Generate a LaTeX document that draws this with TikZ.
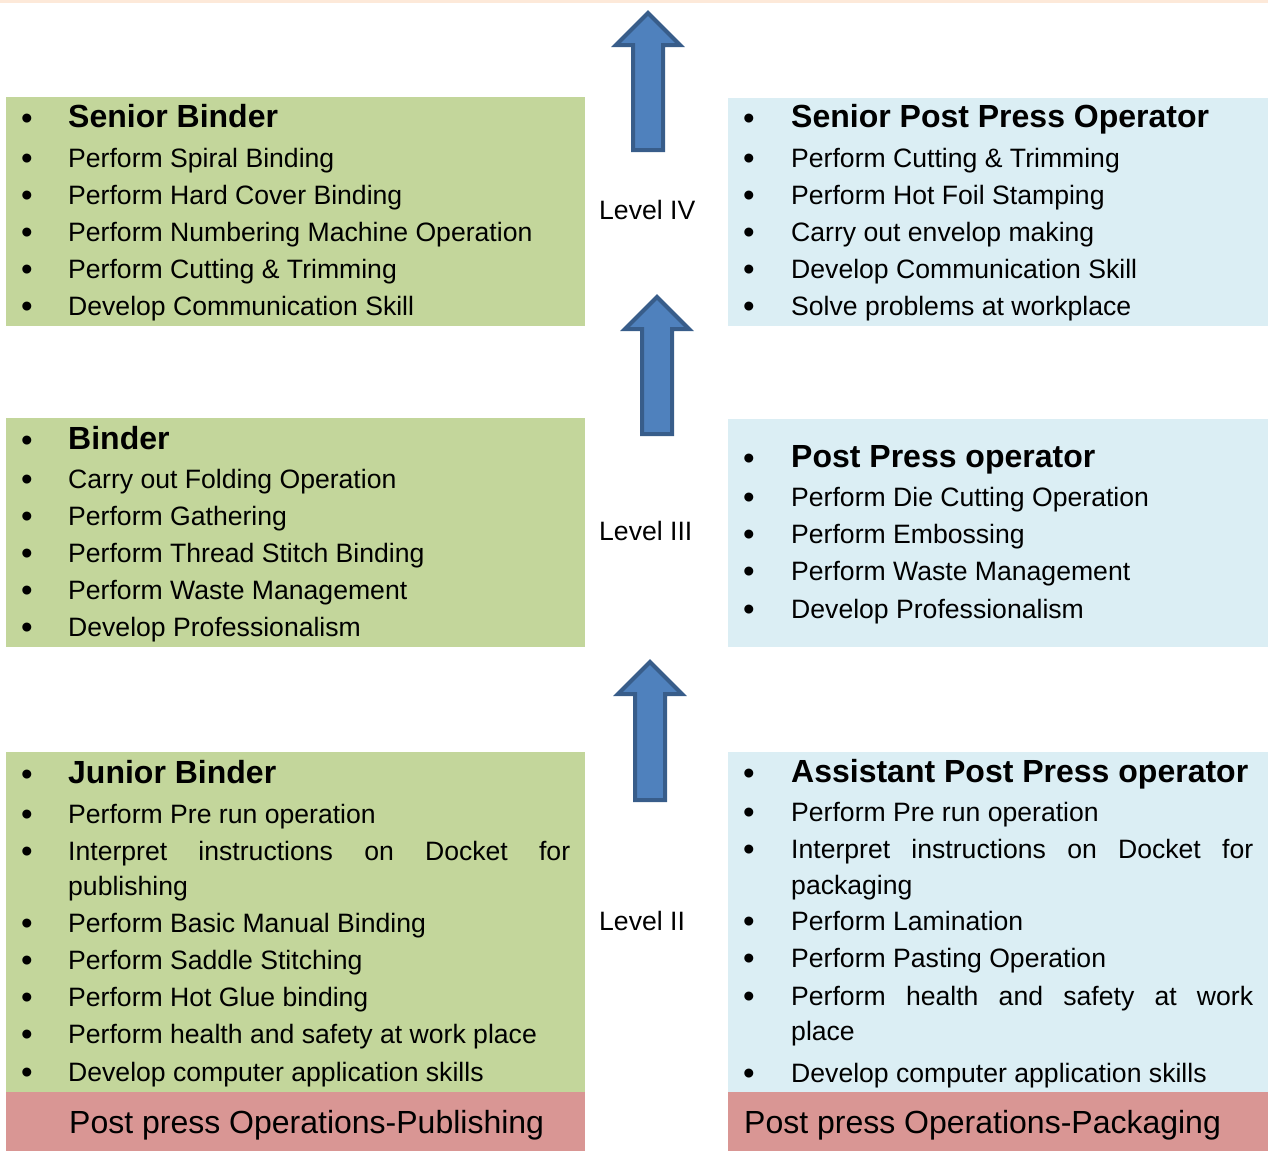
\documentclass[tikz,border=0pt]{standalone}
\usepackage{fontspec}
\setmainfont{Liberation Sans}
\usepackage{tikz}

\definecolor{pubgreen}{HTML}{C3D69B}
\definecolor{packblue}{HTML}{DBEEF4}
\definecolor{basered}{HTML}{D99694}
\definecolor{topline}{HTML}{FDE9D9}
\definecolor{arrowfill}{HTML}{4F81BD}
\definecolor{arrowline}{HTML}{385D8A}

\tikzset{
  panel/.style={anchor=north west, inner sep=0pt, draw=none},
  txt/.style={anchor=base west, inner sep=0pt, font=\fontsize{26.6}{32}\selectfont},
  ttl/.style={anchor=base west, inner sep=0pt, font=\bfseries\fontsize{32}{38}\selectfont},
  dot/.style={anchor=base, inner sep=0pt, yshift=-2.5pt, font=\fontsize{33}{38}\selectfont},
  foot/.style={anchor=base west, inner sep=0pt, font=\fontsize{32}{38}\selectfont},
  lvl/.style={anchor=base west, inner sep=0pt, font=\fontsize{26.6}{32}\selectfont},
  uparrow/.style={fill=arrowfill, draw=arrowline, line width=4pt, line join=miter}
}

\begin{document}
\begin{tikzpicture}[x=1pt, y=-1pt]
        \useasboundingbox (0,0) rectangle (1268,1151);
        \fill[topline] (0,0) rectangle (1268,3);

        % Define the panels
        \node[panel, fill=pubgreen, minimum width=579pt, minimum height=229pt] (gA) at (6,97) {};
        \node[panel, fill=pubgreen, minimum width=579pt, minimum height=229pt] (gB) at (6,418) {};
        \node[panel, fill=pubgreen, minimum width=579pt, minimum height=340pt] (gC) at (6,752) {};
        \node[panel, fill=basered, minimum width=579pt, minimum height=59pt] (gD) at (6,1092) {};
        \node[panel, fill=packblue, minimum width=540pt, minimum height=228pt] (bA) at (728,98) {};
        \node[panel, fill=packblue, minimum width=540pt, minimum height=228pt] (bB) at (728,419) {};
        \node[panel, fill=packblue, minimum width=540pt, minimum height=340pt] (bC) at (728,752) {};
        \node[panel, fill=basered, minimum width=540pt, minimum height=59pt] (bD) at (728,1092) {};

        % Define the arrows
        \foreach \cx/\tip/\bot in {648/13/150, 657/297/434, 650/662/800}
          \draw[uparrow] (\cx-15,\bot) -- (\cx-15,\tip+32) -- (\cx-32,\tip+32) -- (\cx,\tip)
            -- (\cx+32,\tip+32) -- (\cx+15,\tip+32) -- (\cx+15,\bot) -- cycle;

        % Define the levels
        \node[lvl] (lv4) at (599,219) {Level IV};
        \node[lvl] (lv3) at (599,540) {Level III};
        \node[lvl] (lv2) at (599,930) {Level II};

        % Publishing side
        \node[dot] (gA-d0) at (27,127) {•};
        \node[ttl] (gA-t0) at (68,127) {Senior Binder};
        \foreach \yb/\txt [count=\i] in {167/Perform Spiral Binding, 204/Perform Hard Cover Binding,
            241/Perform Numbering Machine Operation, 278/Perform Cutting \& Trimming,
            315/Develop Communication Skill} {
          \node[dot] (gA-d\i) at (27,\yb) {•};
          \node[txt] (gA-t\i) at (68,\yb) {\txt};
        }

        \node[dot] (gB-d0) at (27,449) {•};
        \node[ttl] (gB-t0) at (68,449) {Binder};
        \foreach \yb/\txt [count=\i] in {488/Carry out Folding Operation, 525/Perform Gathering,
            562/Perform Thread Stitch Binding, 599/Perform Waste Management,
            636/Develop Professionalism} {
          \node[dot] (gB-d\i) at (27,\yb) {•};
          \node[txt] (gB-t\i) at (68,\yb) {\txt};
        }

        \node[dot] (gC-d0) at (27,783) {•};
        \node[ttl] (gC-t0) at (68,783) {Junior Binder};
        \node[dot] (gC-d1) at (27,823) {•};
        \node[txt] (gC-t1) at (68,823) {Perform Pre run operation};
        \node[dot] (gC-d2) at (27,860) {•};
        \node[txt] (gC-t2) at (68,860) {\makebox[502pt][s]{Interpret instructions on Docket for}};
        \node[txt] (gC-t2b) at (68,895) {publishing};
        \foreach \yb/\txt [count=\i from 3] in {932/Perform Basic Manual Binding,
            969/Perform Saddle Stitching, 1006/Perform Hot Glue binding,
            1043/Perform health and safety at work place, 1081/Develop computer application skills} {
          \node[dot] (gC-d\i) at (27,\yb) {•};
          \node[txt] (gC-t\i) at (68,\yb) {\txt};
        }
        \node[foot] (gD-t) at (69,1133) {Post press Operations-Publishing};

        % Packaging side
        \node[dot] (bA-d0) at (749,127) {•};
        \node[ttl] (bA-t0) at (791,127) {Senior Post Press Operator};
        \foreach \yb/\txt [count=\i] in {167/Perform Cutting \& Trimming, 204/Perform Hot Foil Stamping,
            241/Carry out envelop making, 278/Develop Communication Skill,
            315/Solve problems at workplace} {
          \node[dot] (bA-d\i) at (749,\yb) {•};
          \node[txt] (bA-t\i) at (791,\yb) {\txt};
        }

        \node[dot] (bB-d0) at (749,467) {•};
        \node[ttl] (bB-t0) at (791,467) {Post Press operator};
        \foreach \yb/\txt [count=\i] in {506/Perform Die Cutting Operation, 543/Perform Embossing,
            580/Perform Waste Management, 618/Develop Professionalism} {
          \node[dot] (bB-d\i) at (749,\yb) {•};
          \node[txt] (bB-t\i) at (791,\yb) {\txt};
        }

        \node[dot] (bC-d0) at (749,782) {•};
        \node[ttl] (bC-t0) at (791,782) {Assistant Post Press operator};
        \node[dot] (bC-d1) at (749,821) {•};
        \node[txt] (bC-t1) at (791,821) {Perform Pre run operation};
        \node[dot] (bC-d2) at (749,858) {•};
        \node[txt] (bC-t2) at (791,858) {\makebox[462pt][s]{Interpret instructions on Docket for}};
        \node[txt] (bC-t2b) at (791,894) {packaging};
        \node[dot] (bC-d3) at (749,930) {•};
        \node[txt] (bC-t3) at (791,930) {Perform Lamination};
        \node[dot] (bC-d4) at (749,967) {•};
        \node[txt] (bC-t4) at (791,967) {Perform Pasting Operation};
        \node[dot] (bC-d5) at (749,1005) {•};
        \node[txt] (bC-t5) at (791,1005) {\makebox[462pt][s]{Perform health and safety at work}};
        \node[txt] (bC-t5b) at (791,1040) {place};
        \node[dot] (bC-d6) at (749,1082) {•};
        \node[txt] (bC-t6) at (791,1082) {Develop computer application skills};
        \node[foot] (bD-t) at (744,1133) {Post press Operations-Packaging};
    \end{tikzpicture}
\end{document}
